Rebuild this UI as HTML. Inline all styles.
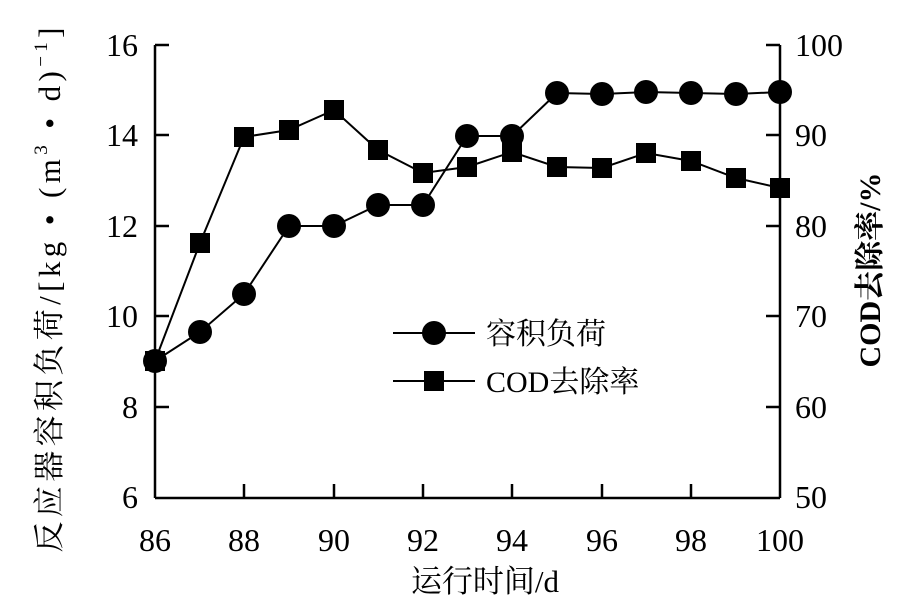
<!DOCTYPE html><html><head><style>body{margin:0;background:#fff}</style></head><body>
<svg width="912" height="611" xmlns="http://www.w3.org/2000/svg" font-family="Liberation Serif, Noto Serif CJK SC, serif">
<g stroke="#000" stroke-width="2.5" fill="none">
<line x1="155" y1="45" x2="155" y2="498"/>
<line x1="155" y1="498" x2="780" y2="498"/>
<line x1="780" y1="45" x2="780" y2="498"/>
<path d="M155 45h14M155 135h14M155 226h14M155 316h14M155 407h14"/>
<path d="M780 45h-14M780 135h-14M780 226h-14M780 316h-14M780 407h-14"/>
<path d="M244 498v-14M334 498v-14M423 498v-14M512 498v-14M602 498v-14M691 498v-14"/>
</g>
<g font-size="32" text-anchor="end">
<text x="138" y="56">16</text><text x="138" y="146">14</text><text x="138" y="237">12</text><text x="138" y="327">10</text><text x="138" y="418">8</text><text x="138" y="508">6</text>
</g>
<g font-size="32" text-anchor="start">
<text x="795" y="56">100</text><text x="795" y="146">90</text><text x="795" y="237">80</text><text x="795" y="327">70</text><text x="795" y="418">60</text><text x="795" y="508">50</text>
</g>
<g font-size="32" text-anchor="middle">
<text x="155" y="551">86</text><text x="244" y="551">88</text><text x="334" y="551">90</text><text x="423" y="551">92</text><text x="512" y="551">94</text><text x="602" y="551">96</text><text x="691" y="551">98</text><text x="780" y="551">100</text>
<text x="485" y="592" font-size="31">运行时间/d</text>
</g>
<text transform="translate(60,290) rotate(-90)" font-size="31" text-anchor="middle" textLength="525" lengthAdjust="spacing">反应器容积负荷/[kg • (m<tspan font-size="19" dy="-13">3</tspan><tspan dy="13"> • d)</tspan><tspan font-size="19" dy="-13">−1</tspan><tspan dy="13">]</tspan></text>
<text transform="translate(880,270) rotate(-90)" font-size="30" text-anchor="middle" font-weight="bold">COD去除率/%</text>
<polyline fill="none" stroke="#000" stroke-width="2" points="155,361 200,332 244,294 289,226 334,226 378,205 423,205 467,136 512,136 557,93 602,94 646,92 691,93 736,94 780,92"/>
<polyline fill="none" stroke="#000" stroke-width="2" points="155,361 200,243 244,137 289,130 334,110 378,150 423,173 467,167 512,152 557,167 602,168 646,153 691,161 736,178 780,188"/>
<g fill="#000">
<circle cx="155" cy="361" r="12"/><circle cx="200" cy="332" r="12"/><circle cx="244" cy="294" r="12"/><circle cx="289" cy="226" r="12"/><circle cx="334" cy="226" r="12"/><circle cx="378" cy="205" r="12"/><circle cx="423" cy="205" r="12"/><circle cx="467" cy="136" r="12"/><circle cx="512" cy="136" r="12"/><circle cx="557" cy="93" r="12"/><circle cx="602" cy="94" r="12"/><circle cx="646" cy="92" r="12"/><circle cx="691" cy="93" r="12"/><circle cx="736" cy="94" r="12"/><circle cx="780" cy="92" r="12"/>
<g transform="translate(-10,-10)">
<rect x="155" y="361" width="20" height="20"/><rect x="200" y="243" width="20" height="20"/><rect x="244" y="137" width="20" height="20"/><rect x="289" y="130" width="20" height="20"/><rect x="334" y="110" width="20" height="20"/><rect x="378" y="150" width="20" height="20"/><rect x="423" y="173" width="20" height="20"/><rect x="467" y="167" width="20" height="20"/><rect x="512" y="152" width="20" height="20"/><rect x="557" y="167" width="20" height="20"/><rect x="602" y="168" width="20" height="20"/><rect x="646" y="153" width="20" height="20"/><rect x="691" y="161" width="20" height="20"/><rect x="736" y="178" width="20" height="20"/><rect x="780" y="188" width="20" height="20"/>
</g>
<line x1="393" y1="333" x2="475" y2="333" stroke="#000" stroke-width="2"/><circle cx="434" cy="333" r="12"/>
<line x1="393" y1="381" x2="475" y2="381" stroke="#000" stroke-width="2"/><rect x="424" y="371" width="20" height="20"/>
</g>
<g font-size="30">
<text x="486" y="344">容积负荷</text><text x="486" y="392">COD去除率</text>
</g>
</svg>
</body></html>
